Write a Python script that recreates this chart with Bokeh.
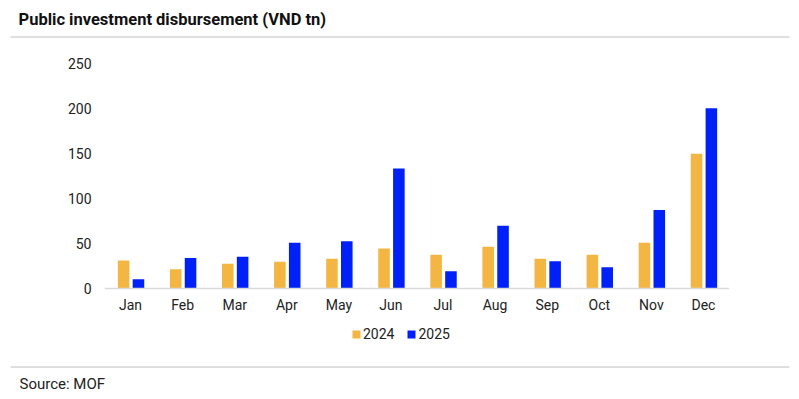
from bokeh.plotting import figure
from bokeh.models import (FactorRange, Range1d, FixedTicker, Legend, LegendItem, Title,
                          ColorBar, LinearColorMapper, ColumnDataSource)
from bokeh.transform import dodge
from bokeh.embed import file_html
from bokeh.resources import INLINE

months = ["Jan", "Feb", "Mar", "Apr", "May", "Jun", "Jul", "Aug", "Sep", "Oct", "Nov", "Dec"]
y2024 = [31.0, 21.5, 27.4, 29.6, 33.0, 44.4, 37.4, 46.3, 33.0, 37.4, 50.8, 149.7]
y2025 = [10.3, 34.0, 35.2, 50.7, 52.6, 133.3, 19.3, 69.6, 30.4, 23.7, 87.2, 200.4]
y_ticks = [0, 50, 100, 150, 200, 250]
series_names = ["2024", "2025"]
title_text = "Public investment disbursement (VND tn)"
source_text = "Source: MOF"

FONT = "Roboto"
C2024 = "#F3B643"
C2025 = "#0020F8"
RULE = "#c0c0c0"

# frame extends below the zero line so the legend can sit inside it
p = figure(x_range=FactorRange(factors=months), y_range=Range1d(-86.67, 250),
           width=799, height=399, frame_width=625, frame_height=303,
           output_backend="svg", toolbar_location=None,
           min_border_left=104, min_border_right=70, min_border_top=63, min_border_bottom=33)
p.outline_line_color = None
p.xgrid.grid_line_color = None
p.ygrid.grid_line_color = None
p.background_fill_color = "white"
p.border_fill_color = "white"

src = ColumnDataSource(dict(month=months, y2024=y2024, y2025=y2025))
r1 = p.vbar(x=dodge("month", -0.133, range=p.x_range), top="y2024", width=0.222,
            source=src, fill_color=C2024, line_color=None)
r2 = p.vbar(x=dodge("month", 0.152, range=p.x_range), top="y2025", width=0.222,
            source=src, fill_color=C2025, line_color=None)

ya = p.yaxis[0]
ya.ticker = FixedTicker(ticks=y_ticks)
ya.axis_line_color = None
ya.major_tick_line_color = None
ya.minor_tick_line_color = None
ya.major_label_text_font = FONT
ya.major_label_text_font_size = "14px"
ya.major_label_text_color = "#222222"
ya.major_label_standoff = 7

xa = p.xaxis[0]
xa.fixed_location = 0
xa.axis_line_color = "#d9d9d9"
xa.axis_line_width = 1.5
xa.major_tick_line_color = None
xa.minor_tick_line_color = None
xa.major_label_text_font = FONT
xa.major_label_text_font_size = "14px"
xa.major_label_text_color = "#222222"
xa.major_label_standoff = 3


def rule_bar(loc):
    return ColorBar(color_mapper=LinearColorMapper(palette=[RULE], low=0, high=1),
                    orientation="horizontal", width=779, height=1, location=loc,
                    ticker=FixedTicker(ticks=[]), major_label_text_font_size="0px",
                    major_tick_line_color=None, minor_tick_line_color=None,
                    bar_line_color=None, border_line_color=None, background_fill_alpha=0,
                    padding=0, margin=0, title=None)


legend = Legend(items=[LegendItem(label=series_names[0], renderers=[r1]),
                       LegendItem(label=series_names[1], renderers=[r2])],
                orientation="horizontal", location=(247, 24),
                glyph_width=10, glyph_height=10, label_standoff=2, spacing=12,
                padding=0, margin=0, border_line_color=None, background_fill_alpha=0,
                label_text_font=FONT, label_text_font_size="14px", label_text_color="#222222")
p.add_layout(legend, "center")

p.add_layout(rule_bar((-94, 0)), "below")
p.add_layout(Title(text=source_text, text_font=FONT, text_font_size="15px",
                   text_font_style="normal", text_color="#222222", align="left",
                   offset=-85, standoff=11), "below")

p.add_layout(rule_bar((-94, 26)), "above")
p.title = Title(text=title_text, text_font=FONT, text_font_size="16.5px",
                text_font_style="bold", text_color="#111111", align="left", offset=-86,
                standoff=15)

open("out.html", "w").write(file_html(p, INLINE))
